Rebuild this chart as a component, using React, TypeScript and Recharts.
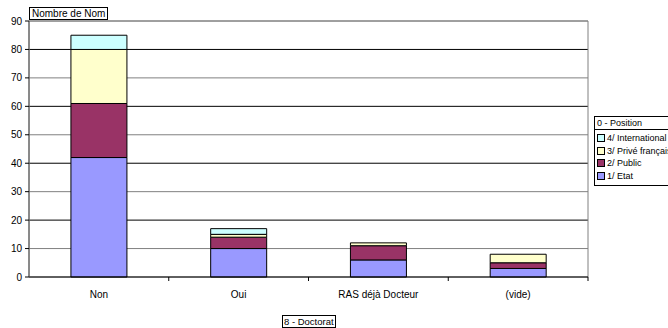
import React from "react";
import {
  BarChart, Bar, XAxis, YAxis, CartesianGrid, ReferenceArea, Legend,
} from "recharts";

// Nombre de Nom par Doctorat, empilé par Position
const categories = ["Non", "Oui", "RAS déjà Docteur", "(vide)"];
const etat = [42, 10, 6, 3];
const publicSector = [19, 4, 5, 2];
const priveFrancais = [19, 1, 1, 3];
const international = [5, 2, 0, 0];

const yTicks = [0, 10, 20, 30, 40, 50, 60, 70, 80, 90];
const darkGrid = [20, 40, 60, 80];
const lightGrid = [10, 30, 50, 70, 90];

const series = [
  { key: "etat", name: "1/ Etat", color: "#9999FF", values: etat },
  { key: "public", name: "2/ Public", color: "#993366", values: publicSector },
  { key: "prive", name: "3/ Privé français", color: "#FFFFCC", values: priveFrancais },
  { key: "international", name: "4/ International", color: "#CCFFFF", values: international },
];

const data = categories.map((doctorat, i) => {
  const row: Record<string, string | number> = { doctorat };
  series.forEach((s) => (row[s.key] = s.values[i]));
  return row;
});

const W = 668;
const H = 328;
const PLOT_LEFT = 29;
const PLOT_RIGHT = 588;
const FONT = "'Liberation Sans', Arial, sans-serif";
const band = (PLOT_RIGHT - PLOT_LEFT) / categories.length;

// category label plus the small separator tick at the right edge of each band
const XTick = (props: any) => {
  const { x, y, payload } = props;
  const sep = x + band / 2;
  return (
    <g>
      <line x1={sep} x2={sep} y1={y} y2={y + 4} stroke="#000" />
      <text
        x={x}
        y={y + 17}
        dy="0.355em"
        textAnchor="middle"
        fontSize={10}
        fontFamily={FONT}
        fill="#000"
      >
        {payload.value}
      </text>
    </g>
  );
};

const PositionLegend = () => (
  <div
    style={{
      border: "1px solid #000",
      background: "#fff",
      fontFamily: FONT,
      fontSize: 9,
      width: 100,
      lineHeight: "12px",
    }}
  >
    <div style={{ borderBottom: "1px solid #000", padding: "0 2px" }}>0 - Position</div>
    <div style={{ padding: "2px 2px 3px 2px" }}>
      {[...series].reverse().map((s) => (
        <div key={s.key} style={{ display: "flex", alignItems: "center", height: 12.5, whiteSpace: "nowrap" }}>
          <span
            style={{
              display: "inline-block",
              width: 6,
              height: 6,
              border: "1px solid #000",
              background: s.color,
              marginRight: 2,
            }}
          />
          {s.name}
        </div>
      ))}
    </div>
  </div>
);

export default function App() {
  return (
    <div
      style={{
        position: "absolute",
        left: 0,
        top: 0,
        width: W,
        height: H,
        overflow: "hidden",
        background: "#fff",
        fontFamily: FONT,
      }}
    >
      <BarChart
        width={W}
        height={H}
        data={data}
        margin={{ top: 21, right: W - PLOT_RIGHT, left: 0, bottom: 0 }}
        barCategoryGap="30%"
      >
        <CartesianGrid vertical={false} horizontalValues={lightGrid} stroke="#808080" />
        <CartesianGrid vertical={false} horizontalValues={darkGrid} stroke="#000" />
        <ReferenceArea y1={0} y2={90} fill="none" stroke="#808080" />
        <XAxis
          dataKey="doctorat"
          height={51}
          tickSize={0}
          tickMargin={0}
          tickLine={false}
          axisLine={{ stroke: "#000" }}
          tick={<XTick />}
          interval={0}
        />
        <YAxis
          type="number"
          width={PLOT_LEFT}
          domain={[0, 90]}
          ticks={yTicks}
          interval={0}
          tickSize={4}
          tickMargin={3}
          tickLine={{ stroke: "#000" }}
          axisLine={{ stroke: "#555" }}
          tick={{ fontSize: 10, fill: "#000", fontFamily: FONT }}
        />
        <Legend
          layout="horizontal"
          verticalAlign="middle"
          content={<PositionLegend />}
          wrapperStyle={{ position: "absolute", left: 594, top: 116, width: 100 }}
        />
        {series.map((s) => (
          <Bar
            key={s.key}
            dataKey={s.key}
            name={s.name}
            stackId="position"
            fill={s.color}
            stroke="#000"
            strokeWidth={1}
            isAnimationActive={false}
          />
        ))}
      </BarChart>

      <div
        style={{
          position: "absolute",
          left: PLOT_LEFT,
          top: 7,
          border: "1px solid #000",
          background: "#fff",
          fontSize: 10,
          lineHeight: "11px",
          padding: "0 2px",
        }}
      >
        Nombre de Nom
      </div>
      <div
        style={{
          position: "absolute",
          left: 282,
          top: 315,
          border: "1px solid #000",
          background: "#fff",
          fontSize: 9.5,
          lineHeight: "11px",
          padding: "0 1px",
        }}
      >
        8 - Doctorat
      </div>
    </div>
  );
}
